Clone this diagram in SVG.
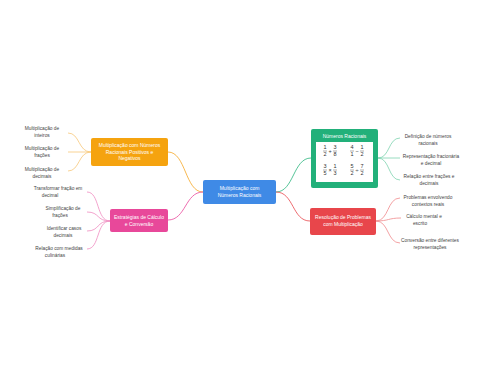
<svg xmlns="http://www.w3.org/2000/svg" width="480" height="384" viewBox="0 0 480 384">
<style>
.nt{font-family:"Liberation Sans",Arial,sans-serif;font-size:5px;fill:#fff;text-anchor:middle}
.lf{font-family:"Liberation Sans",Arial,sans-serif;font-size:4.8px;fill:#444;text-anchor:middle}
.fr{font-family:"Liberation Sans",Arial,sans-serif;font-size:5.5px;fill:#333;text-anchor:middle}
.c{fill:none;stroke-width:0.8}
</style>
<rect width="480" height="384" fill="#fff"/>
<g id="connectors">
<path class="c" stroke="#F5A623" d="M203,192 C185,192 186,152 168,152"/>
<path class="c" stroke="#E8489A" d="M203,192 C185,192 186,220 168,220"/>
<path class="c" stroke="#2BB57E" d="M276,192 C294,192 293,158 311,158"/>
<path class="c" stroke="#E8464B" d="M276,192 C294,192 292,221 310,221"/>
<path class="c" stroke="#F8C87A" d="M91,152 C78,152 80,133 68,133"/>
<path class="c" stroke="#F8C87A" d="M91,152 L68,152"/>
<path class="c" stroke="#F8C87A" d="M91,152 C78,152 80,171 68,171"/>
<path class="c" stroke="#F08CC0" d="M110,221 C96,221 100,192 87,192"/>
<path class="c" stroke="#F08CC0" d="M110,221 C96,221 100,212 87,212"/>
<path class="c" stroke="#F08CC0" d="M110,221 C96,221 100,231 87,231"/>
<path class="c" stroke="#F08CC0" d="M110,221 C96,221 100,249 87,249"/>
<path class="c" stroke="#7FD3B0" d="M378,158 C390,158 388,138 400,138"/>
<path class="c" stroke="#7FD3B0" d="M378,158 L400,158"/>
<path class="c" stroke="#7FD3B0" d="M378,158 C390,158 388,180 400,180"/>
<path class="c" stroke="#F08A8D" d="M376,221 C389,221 387,198 400,198"/>
<path class="c" stroke="#F08A8D" d="M376,221 C389,221 388,218 401,218"/>
<path class="c" stroke="#F08A8D" d="M376,221 C389,221 387,243 400,243"/>
</g>
<g id="central">
<rect x="203" y="180" width="73" height="24" rx="2" fill="#3F8AE6"/>
<text class="nt" x="239.5" y="190">Multiplicação com</text>
<text class="nt" x="239.5" y="197">Números Racionais</text>
</g>
<g id="orange">
<rect x="91" y="138" width="77" height="28" rx="2" fill="#F5A30F"/>
<text class="nt" x="129.5" y="147" font-size="4.6">Multiplicação com Números</text>
<text class="nt" x="129.5" y="153.5" font-size="4.6">Racionais Positivos e</text>
<text class="nt" x="129.5" y="160" font-size="4.6">Negativos</text>
</g>
<g id="pink">
<rect x="110" y="209" width="58" height="23" rx="2" fill="#E8489A"/>
<text class="nt" x="139" y="219">Estratégias de Cálculo</text>
<text class="nt" x="139" y="226">e Conversão</text>
</g>
<g id="green">
<rect x="311" y="129" width="67" height="59" rx="2" fill="#22B07A"/>
<text class="nt" x="344.5" y="138">Números Racionais</text>
<rect x="316" y="142" width="57" height="40" fill="#fff"/>
<g class="fr">
<text x="325" y="149">1</text><line x1="323" y1="151" x2="327" y2="151" stroke="#333" stroke-width="0.4"/><text x="325" y="156">2</text>
<text x="330" y="153">+</text>
<text x="335" y="149">3</text><line x1="333" y1="151" x2="337" y2="151" stroke="#333" stroke-width="0.4"/><text x="335" y="156">8</text>
<text x="352" y="149">4</text><line x1="350" y1="151" x2="354" y2="151" stroke="#333" stroke-width="0.4"/><text x="352" y="156">1</text>
<text x="357" y="153">−</text>
<text x="362" y="149">1</text><line x1="360" y1="151" x2="364" y2="151" stroke="#333" stroke-width="0.4"/><text x="362" y="156">2</text>
<text x="325" y="168">3</text><line x1="323" y1="170" x2="327" y2="170" stroke="#333" stroke-width="0.4"/><text x="325" y="175">5</text>
<text x="330" y="172">×</text>
<text x="335" y="168">1</text><line x1="333" y1="170" x2="337" y2="170" stroke="#333" stroke-width="0.4"/><text x="335" y="175">3</text>
<text x="352" y="168">5</text><line x1="350" y1="170" x2="354" y2="170" stroke="#333" stroke-width="0.4"/><text x="352" y="175">2</text>
<text x="357" y="172">÷</text>
<text x="362" y="168">7</text><line x1="360" y1="170" x2="364" y2="170" stroke="#333" stroke-width="0.4"/><text x="362" y="175">2</text>
</g>
</g>
<g id="red">
<rect x="310" y="208" width="66" height="27" rx="2" fill="#E8464B"/>
<text class="nt" x="343" y="219">Resolução de Problemas</text>
<text class="nt" x="343" y="226">com Multiplicação</text>
</g>
<g id="leaf-o1"><text class="lf" x="42" y="130">Multiplicação de</text><text class="lf" x="42" y="137">inteiros</text></g>
<g id="leaf-o2"><text class="lf" x="42" y="150">Multiplicação de</text><text class="lf" x="42" y="157">frações</text></g>
<g id="leaf-o3"><text class="lf" x="42" y="171">Multiplicação de</text><text class="lf" x="42" y="178">decimais</text></g>
<g id="leaf-p1"><text class="lf" x="58" y="190">Transformar fração em</text><text class="lf" x="50" y="197">decimal</text></g>
<g id="leaf-p2"><text class="lf" x="63" y="210">Simplificação de</text><text class="lf" x="60" y="217">frações</text></g>
<g id="leaf-p3"><text class="lf" x="64" y="230">Identificar casos</text><text class="lf" x="63" y="237">decimais</text></g>
<g id="leaf-p4"><text class="lf" x="59" y="250">Relação com medidas</text><text class="lf" x="55" y="257">culinárias</text></g>
<g id="leaf-g1"><text class="lf" x="428" y="138">Definição de números</text><text class="lf" x="428" y="145">racionais</text></g>
<g id="leaf-g2"><text class="lf" x="431" y="158">Representação fracionária</text><text class="lf" x="431" y="165">e decimal</text></g>
<g id="leaf-g3"><text class="lf" x="429" y="178">Relação entre frações e</text><text class="lf" x="429" y="185">decimais</text></g>
<g id="leaf-r1"><text class="lf" x="428" y="199">Problemas envolvendo</text><text class="lf" x="428" y="206">contextos reais</text></g>
<g id="leaf-r2"><text class="lf" x="424" y="218">Cálculo mental e</text><text class="lf" x="420" y="225">escrito</text></g>
<g id="leaf-r3"><text class="lf" x="430" y="242">Conversão entre diferentes</text><text class="lf" x="430" y="249">representações</text></g>
</svg>
